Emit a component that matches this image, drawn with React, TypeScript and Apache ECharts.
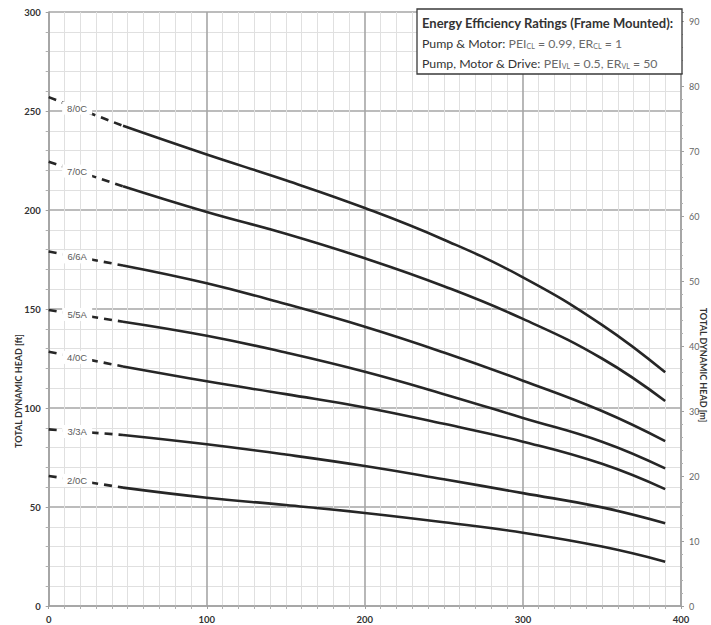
import React, { useEffect, useRef } from "react";
import * as echarts from "echarts";

// ---- data ----
const CURVE_NAMES = ["8/0C", "7/0C", "6/6A", "5/5A", "4/0C", "3/3A", "2/0C"];
const DASH_FLOW = [0, 47];
const DASH_8 = [257, 242.5];
const DASH_7 = [224.4, 212];
const DASH_6 = [179, 172];
const DASH_5 = [149.5, 143.6];
const DASH_4 = [128.4, 121];
const DASH_3 = [89.2, 86.4];
const DASH_2 = [65.7, 59.8];

const FLOW = [47, 100, 150, 200, 250, 300, 350, 390];
const HEAD_8 = [242.5, 228, 215, 201, 185, 166, 142, 118];
const HEAD_7 = [212, 199, 188, 175.6, 161.5, 145, 125, 103.5];
const HEAD_6 = [172, 163, 152.5, 141, 128, 113.8, 98.5, 83.3];
const HEAD_5 = [143.6, 136.5, 128, 118.3, 107, 95, 83, 69.5];
const HEAD_4 = [121, 113.5, 107, 100.3, 92, 83, 71.8, 59];
const HEAD_3 = [86.4, 81.7, 76.5, 70.7, 64, 57, 49.8, 41.8];
const HEAD_2 = [59.8, 54.7, 51, 47, 42.3, 37, 30, 22.4];

const X_TICKS = [0, 100, 200, 300, 400];
const FT_MAX = 300;
const M_MAX = 300 / 3.28084;
const LABEL_FLOW = 18;

const DASHES = [DASH_8, DASH_7, DASH_6, DASH_5, DASH_4, DASH_3, DASH_2];
const HEADS = [HEAD_8, HEAD_7, HEAD_6, HEAD_5, HEAD_4, HEAD_3, HEAD_2];

const FONT = "Lato, 'Open Sans', sans-serif";
const LINE_COLOR = "#262626";

export default function App() {
  const ref = useRef<HTMLDivElement>(null);

  useEffect(() => {
    if (!ref.current) return;
    const chart = echarts.init(ref.current, undefined, { renderer: "svg" });

    const series: any[] = [];
    CURVE_NAMES.forEach((name, i) => {
      const d = DASHES[i];
      const t = (LABEL_FLOW - DASH_FLOW[0]) / (DASH_FLOW[1] - DASH_FLOW[0]);
      const labelY = d[0] + (d[1] - d[0]) * t;
      series.push({
        type: "line",
        yAxisIndex: 0,
        data: DASH_FLOW.map((f, k) => [f, d[k]]),
        showSymbol: false,
        symbol: "none",
        lineStyle: { color: LINE_COLOR, width: 2.6, type: [8, 6] },
        z: 3,
        silent: true,
        markPoint: {
          silent: true,
          symbol: "rect",
          symbolSize: [30, 13],
          itemStyle: { color: "#ffffff", borderWidth: 0 },
          label: {
            show: true,
            position: "inside",
            formatter: name,
            color: "#5a5a5a",
            fontSize: 9.5,
            fontFamily: "'Liberation Sans', Arial, sans-serif",
          },
          data: [{ coord: [LABEL_FLOW, labelY] }],
        },
      });
      series.push({
        type: "line",
        yAxisIndex: 0,
        data: FLOW.map((f, k) => [f, HEADS[i][k]]),
        showSymbol: false,
        symbol: "none",
        smooth: 0.45,
        lineStyle: { color: LINE_COLOR, width: 2.6 },
        z: 3,
        silent: true,
      });
    });

    chart.setOption({
      animation: false,
      backgroundColor: "#ffffff",
      grid: { left: 48.7, right: 30, top: 12, bottom: 19, containLabel: false },
      xAxis: {
        type: "value",
        min: X_TICKS[0],
        max: X_TICKS[X_TICKS.length - 1],
        interval: 100,
        axisLine: { show: true, lineStyle: { color: "#a0a0a0", width: 1.5 } },
        axisTick: { show: true, length: 3, lineStyle: { color: "#a0a0a0" } },
        minorTick: { show: true, splitNumber: 10, length: 3, lineStyle: { color: "#b0b0b0" } },
        axisLabel: { color: "#333", fontSize: 9.5, fontFamily: FONT, fontWeight: "bold", margin: 8 },
        splitLine: { show: true, lineStyle: { color: "#a6a6a6", width: 1.6 } },
        minorSplitLine: { show: true, lineStyle: { color: "#e0e0e0", width: 1 } },
      },
      yAxis: [
        {
          type: "value",
          min: 0,
          max: FT_MAX,
          interval: 50,
          axisLine: { show: true, lineStyle: { color: "#a0a0a0", width: 1.5 } },
          axisTick: { show: true, length: 3, lineStyle: { color: "#a0a0a0" } },
          minorTick: { show: true, splitNumber: 5, length: 3, lineStyle: { color: "#b0b0b0" } },
          axisLabel: { color: "#333", fontSize: 9.5, fontFamily: FONT, fontWeight: "bold", margin: 8 },
          splitLine: { show: true, lineStyle: { color: "#a6a6a6", width: 1.6 } },
          minorSplitLine: { show: true, lineStyle: { color: "#e0e0e0", width: 1 } },
        },
        {
          type: "value",
          position: "right",
          min: 0,
          max: M_MAX,
          interval: 10,
          axisLine: { show: true, lineStyle: { color: "#a0a0a0", width: 1.5 } },
          axisTick: { show: true, length: 3, lineStyle: { color: "#a0a0a0" } },
          minorTick: { show: true, splitNumber: 5, length: 2, lineStyle: { color: "#b0b0b0" } },
          axisLabel: {
            color: "#666",
            fontSize: 9,
            fontFamily: FONT,
            margin: 8,
            formatter: (v: number) => (Math.abs(v % 10) < 1e-6 ? String(Math.round(v)) : ""),
          },
          splitLine: { show: false },
        },
      ],
      graphic: [
        {
          type: "text",
          x: 18,
          y: 391,
          rotation: Math.PI / 2,
          style: {
            text: "TOTAL DYNAMIC HEAD [ft]",
            fill: "#333",
            font: `bold 9px ${FONT}`,
            align: "center",
            verticalAlign: "middle",
          },
        },
        {
          type: "text",
          x: 703,
          y: 365,
          rotation: -Math.PI / 2,
          style: {
            text: "TOTAL DYNAMIC HEAD [m]",
            fill: "#333",
            font: `bold 9px ${FONT}`,
            align: "center",
            verticalAlign: "middle",
          },
        },
        {
          type: "group",
          z: 100,
          children: [
            {
              type: "rect",
              shape: { x: 417, y: 9, width: 265, height: 65 },
              style: { fill: "#ffffff", stroke: "#3a3a3a", lineWidth: 1.3 },
              z: 100,
            },
            {
              type: "text",
              x: 422,
              y: 23,
              z: 101,
              style: {
                text: "Energy Efficiency Ratings (Frame Mounted):",
                fill: "#333",
                font: `bold 13px ${FONT}`,
                verticalAlign: "middle",
              },
            },
            {
              type: "text",
              x: 422,
              y: 43,
              z: 101,
              style: {
                text: "{a|Pump & Motor:} {b|PEI}{s|CL}{b| = 0.99, ER}{s|CL}{b| = 1}",
                verticalAlign: "middle",
                rich: {
                  a: { fill: "#333", fontSize: 12.3, fontFamily: FONT },
                  b: { fill: "#6a6a6a", fontSize: 12.3, fontFamily: FONT },
                  s: { fill: "#6a6a6a", fontSize: 7, fontFamily: FONT, verticalAlign: "bottom", padding: [4, 0, 0, 0] },
                },
              },
            },
            {
              type: "text",
              x: 422,
              y: 63,
              z: 101,
              style: {
                text: "{a|Pump, Motor & Drive:} {b|PEI}{s|VL}{b| = 0.5, ER}{s|VL}{b| = 50}",
                verticalAlign: "middle",
                rich: {
                  a: { fill: "#333", fontSize: 12.3, fontFamily: FONT },
                  b: { fill: "#6a6a6a", fontSize: 12.3, fontFamily: FONT },
                  s: { fill: "#6a6a6a", fontSize: 7, fontFamily: FONT, verticalAlign: "bottom", padding: [4, 0, 0, 0] },
                },
              },
            },
          ],
        },
      ],
      series,
    });

    return () => chart.dispose();
  }, []);

  return (
    <div
      ref={ref}
      style={{ width: 711, height: 625, position: "absolute", left: 0, top: 0, background: "#fff" }}
    />
  );
}
